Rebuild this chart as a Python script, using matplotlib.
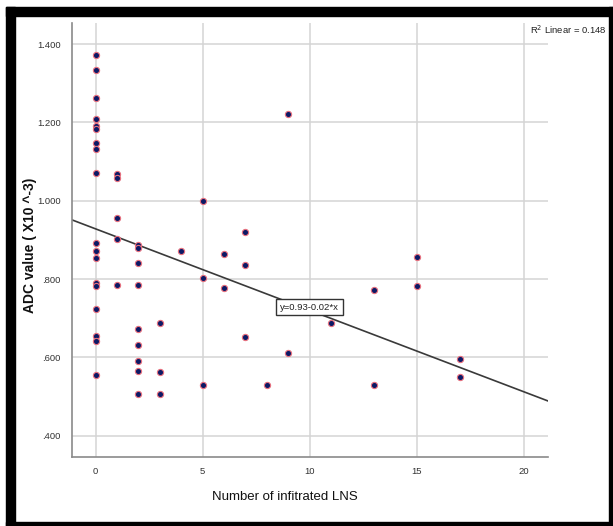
import numpy as np
import matplotlib.pyplot as plt
from matplotlib.patches import Rectangle
from matplotlib.ticker import FuncFormatter

# number of infiltrated lymph nodes and ADC value (x10^-3)
lns_count = [0] * 18 + [1] * 5 + [2] * 9 + [3] * 3 + [4] + [5] * 3 + [6] * 2 \
    + [7] * 3 + [8] + [9] * 2 + [11] + [13] * 2 + [15] * 2 + [17] * 2
adc_value = [
    1.373, 1.334, 1.262, 1.208, 1.190, 1.184, 1.148, 1.131, 1.071,
    0.893, 0.871, 0.854, 0.790, 0.783, 0.724, 0.655, 0.642, 0.555,   # 0
    1.067, 1.059, 0.956, 0.903, 0.784,                               # 1
    0.888, 0.879, 0.842, 0.784, 0.673, 0.632, 0.590, 0.565, 0.505,   # 2
    0.687, 0.562, 0.507,                                             # 3
    0.871,                                                           # 4
    0.999, 0.802, 0.528,                                             # 5
    0.865, 0.778,                                                    # 6
    0.920, 0.835, 0.651,                                             # 7
    0.530,                                                           # 8
    1.221, 0.610,                                                    # 9
    0.687,                                                           # 11
    0.772, 0.528,                                                    # 13
    0.857, 0.782,                                                    # 15
    0.596, 0.550,                                                    # 17
]

# fitted line as drawn (y = 0.93 - 0.02*x, r2 = 0.148)
fit_intercept = 0.928
fit_slope = -0.0208
r2_linear = 0.148

x_ticks = [0, 5, 10, 15, 20]
y_ticks = [0.4, 0.6, 0.8, 1.0, 1.2, 1.4]

font = ["Liberation Sans", "DejaVu Sans"]

W, H = 613, 526
fig = plt.figure(figsize=(W / 100, H / 100), dpi=100)
ax = fig.add_axes([71.7 / W, 1 - 457.3 / H, (547.7 - 71.7) / W, (457.3 - 23) / H])

xlim = (-1.12, 21.12)
ax.set_xlim(*xlim)
ax.set_ylim(0.3445, 1.454)

ax.grid(True, color="#d4d4d4", linewidth=1.1)
ax.set_axisbelow(True)

xs = np.array(xlim)
ax.plot(xs, fit_intercept + fit_slope * xs, color="#3a3a3a", linewidth=1.2, zorder=2)

ax.scatter(lns_count, adc_value, s=20, facecolor="#0c1a66", edgecolor="#e8707e",
           linewidth=0.8, zorder=3)

ax.text(10.0, 0.728, "y=0.93-0.02*x", ha="center", va="center", fontsize=6.8,
        family=font, color="#222222", zorder=4,
        bbox=dict(boxstyle="square,pad=0.4", facecolor="white",
                  edgecolor="#333333", linewidth=1.0))

for side in ["top", "right"]:
    ax.spines[side].set_visible(False)
for side in ["left", "bottom"]:
    ax.spines[side].set_color("#8a8a8a")
    ax.spines[side].set_linewidth(1.2)

ax.set_xticks(x_ticks)
ax.set_yticks(y_ticks)
ax.yaxis.set_major_formatter(FuncFormatter(lambda v, p: f"{v:.3f}".lstrip("0")))
ax.tick_params(length=0, labelsize=6.8, colors="#333333")
ax.tick_params(axis="y", pad=8)
ax.tick_params(axis="x", pad=7)
for lab in ax.get_xticklabels() + ax.get_yticklabels():
    lab.set_family(font)

ax.set_xlabel("Number of infitrated LNS", fontsize=9.5, family=font, color="#111111")
ax.xaxis.set_label_coords((285 - 71.7) / 476, (457.3 - 497) / 434.3)
ax.xaxis.label.set_va("center")
ax.set_ylabel("ADC value ( X10 ^-3)", fontsize=10, fontweight="bold",
              family=font, color="#111111")
ax.yaxis.set_label_coords((30 - 71.7) / 476, (457.3 - 245) / 434.3)
ax.yaxis.label.set_va("center")

fig.text(607 / W, 1 - 30 / H, f"R$^2$ Linear = {r2_linear}", ha="right", va="center",
         fontsize=6.8, family=font, color="#222222")

# black frame around the picture
for (x0, y0, w, h) in [(6, 7, 9, 519), (6, 7, 607, 9), (609, 7, 4, 519), (6, 521.7, 607, 4.3)]:
    fig.patches.append(Rectangle((x0 / W, 1 - (y0 + h) / H), w / W, h / H,
                                 transform=fig.transFigure, color="black"))

fig.savefig("out.png", dpi=100)
